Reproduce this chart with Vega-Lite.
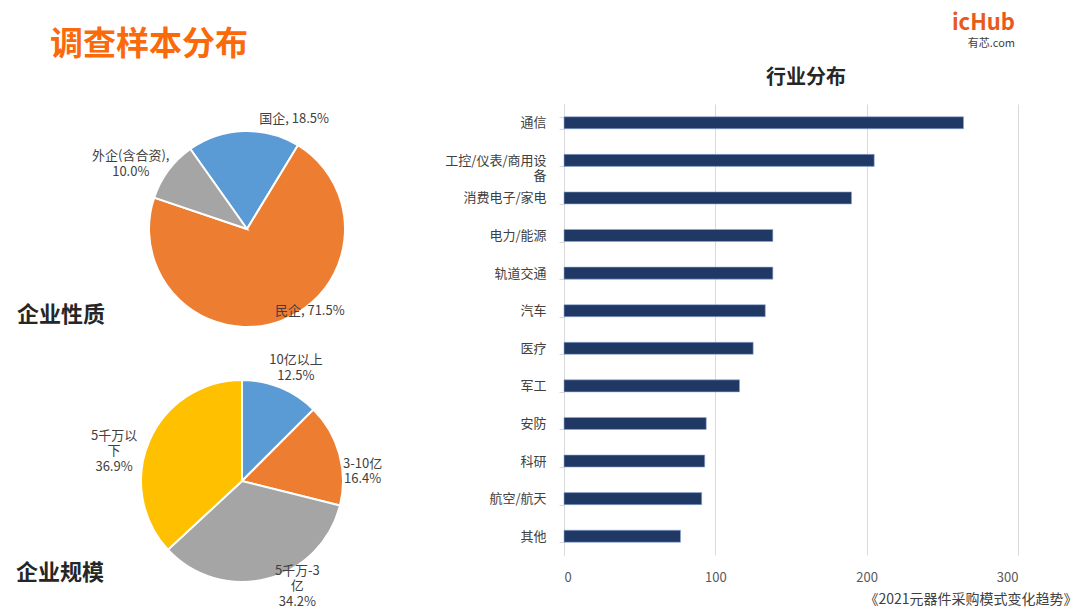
{
  "$schema": "https://vega.github.io/schema/vega-lite/v6.json",
  "padding": {"left": 15, "top": 12, "right": 0, "bottom": 0},
  "config": {
    "font": "Noto Sans CJK SC",
    "view": {"stroke": null}
  },
  "spacing": 47,
  "hconcat": [
    {
      "title": {
        "text": "调查样本分布",
        "anchor": "start",
        "frame": "group",
        "dx": -47,
        "offset": 42,
        "fontSize": 33,
        "fontWeight": "bold",
        "color": "#FA6A0A"
      },
      "bounds": "flush",
      "spacing": 0,
      "resolve": {"scale": {"color": "independent", "theta": "independent"}},
      "vconcat": [
        {
          "width": 300,
          "height": 250,
          "title": {
            "text": "企业性质",
            "orient": "bottom",
            "anchor": "start",
            "dx": -75,
            "dy": -49,
            "offset": 0,
            "fontSize": 22,
            "fontWeight": "bold",
            "color": "#262626"
          },
          "data": {
            "values": [
              {"name": "国企", "value": 18.5, "idx": 1, "label": "国企, 18.5%"},
              {"name": "民企", "value": 71.5, "idx": 2, "label": "民企, 71.5%"},
              {"name": "外企(含合资)", "value": 10.0, "idx": 3, "label": "外企(含合资),\n10.0%"}
            ]
          },
          "transform": [
            {"stack": "value", "groupby": [], "sort": [{"field": "idx"}], "as": ["v0", "v1"]},
            {"calculate": "(datum.v0 + datum.v1) / 2", "as": "mid"}
          ],
          "layer": [
            {
              "mark": {"type": "arc", "outerRadius": 98, "stroke": "#ffffff", "strokeWidth": 2},
              "encoding": {
                "theta": {"field": "v0", "type": "quantitative", "stack": null, "scale": {"domain": [0, 100], "range": [-0.616, 5.667]}},
                "theta2": {"field": "v1"},
                "color": {
                  "field": "name",
                  "type": "nominal",
                  "scale": {"domain": ["国企", "民企", "外企(含合资)"], "range": ["#5B9BD5", "#ED7D31", "#A5A5A5"]},
                  "legend": null
                }
              }
            },
            {
              "transform": [{"filter": "datum.name == '国企'"}],
              "mark": {"type": "text", "radius": 110, "dx": 51, "dy": 0, "fontSize": 13, "color": "#404040", "lineBreak": "\n"},
              "encoding": {"theta": {"field": "mid", "type": "quantitative", "stack": null}, "text": {"field": "label"}}
            },
            {
              "transform": [{"filter": "datum.name == '民企'"}],
              "mark": {"type": "text", "radius": 90, "dx": 32, "dy": -3, "fontSize": 13, "color": "#404040", "lineBreak": "\n"},
              "encoding": {"theta": {"field": "mid", "type": "quantitative", "stack": null}, "text": {"field": "label"}}
            },
            {
              "transform": [{"filter": "datum.name == '外企(含合资)'"}],
              "mark": {"type": "text", "radius": 120, "dx": -20, "dy": -1, "fontSize": 13, "lineHeight": 15.5, "color": "#404040", "lineBreak": "\n"},
              "encoding": {"theta": {"field": "mid", "type": "quantitative", "stack": null}, "text": {"field": "label"}}
            }
          ]
        },
        {
          "width": 290,
          "height": 254,
          "title": {
            "text": "企业规模",
            "orient": "bottom",
            "anchor": "start",
            "dx": -75,
            "dy": -46,
            "offset": 0,
            "fontSize": 22,
            "fontWeight": "bold",
            "color": "#262626"
          },
          "data": {
            "values": [
              {"name": "10亿以上", "value": 12.5, "idx": 1, "label": "10亿以上\n12.5%"},
              {"name": "3-10亿", "value": 16.4, "idx": 2, "label": "3-10亿\n16.4%"},
              {"name": "5千万-3亿", "value": 34.2, "idx": 3, "label": "5千万-3\n亿\n34.2%"},
              {"name": "5千万以下", "value": 36.9, "idx": 4, "label": "5千万以\n下\n36.9%"}
            ]
          },
          "transform": [
            {"stack": "value", "groupby": [], "sort": [{"field": "idx"}], "as": ["v0", "v1"]},
            {"calculate": "(datum.v0 + datum.v1) / 2", "as": "mid"}
          ],
          "layer": [
            {
              "mark": {"type": "arc", "outerRadius": 101, "stroke": "#ffffff", "strokeWidth": 2},
              "encoding": {
                "theta": {"field": "v0", "type": "quantitative", "stack": null, "scale": {"domain": [0, 100]}},
                "theta2": {"field": "v1"},
                "color": {
                  "field": "name",
                  "type": "nominal",
                  "scale": {"domain": ["10亿以上", "3-10亿", "5千万-3亿", "5千万以下"], "range": ["#5B9BD5", "#ED7D31", "#A5A5A5", "#FFC000"]},
                  "legend": null
                }
              }
            },
            {
              "transform": [{"filter": "datum.name == '10亿以上'"}],
              "mark": {"type": "text", "radius": 120, "dx": 8, "dy": -10, "fontSize": 13, "lineHeight": 15.5, "color": "#404040", "lineBreak": "\n"},
              "encoding": {"theta": {"field": "mid", "type": "quantitative", "stack": null}, "text": {"field": "label"}}
            },
            {
              "transform": [{"filter": "datum.name == '3-10亿'"}],
              "mark": {"type": "text", "radius": 120, "dx": 5, "dy": 15, "fontSize": 13, "lineHeight": 15.5, "color": "#404040", "lineBreak": "\n"},
              "encoding": {"theta": {"field": "mid", "type": "quantitative", "stack": null}, "text": {"field": "label"}}
            },
            {
              "transform": [{"filter": "datum.name == '5千万-3亿'"}],
              "mark": {"type": "text", "radius": 110, "dx": 28, "dy": -17, "fontSize": 13, "lineHeight": 15.5, "color": "#404040", "lineBreak": "\n"},
              "encoding": {"theta": {"field": "mid", "type": "quantitative", "stack": null}, "text": {"field": "label"}}
            },
            {
              "transform": [{"filter": "datum.name == '5千万以下'"}],
              "mark": {"type": "text", "radius": 120, "dx": -18, "dy": 3, "fontSize": 13, "lineHeight": 15.5, "color": "#404040", "lineBreak": "\n"},
              "encoding": {"theta": {"field": "mid", "type": "quantitative", "stack": null}, "text": {"field": "label"}}
            }
          ]
        }
      ]
    },
    {
      "title": {
        "text": "icHub",
        "subtitle": "有芯.com",
        "anchor": "end",
        "dx": -62,
        "offset": 18,
        "fontSize": 22,
        "fontWeight": "bold",
        "color": "#E8591A",
        "subtitleFontSize": 11,
        "subtitleColor": "#404040"
      },
      "vconcat": [
        {
          "width": 454,
          "height": 451,
          "title": {
            "text": "行业分布",
            "anchor": "middle",
            "dx": 15,
            "offset": 10,
            "fontSize": 20,
            "fontWeight": "bold",
            "color": "#262626"
          },
          "data": {
            "values": [
              {"industry": "通信", "count": 264},
              {"industry": "工控/仪表/商用设备", "count": 205},
              {"industry": "消费电子/家电", "count": 190},
              {"industry": "电力/能源", "count": 138},
              {"industry": "轨道交通", "count": 138},
              {"industry": "汽车", "count": 133},
              {"industry": "医疗", "count": 125},
              {"industry": "军工", "count": 116},
              {"industry": "安防", "count": 94},
              {"industry": "科研", "count": 93},
              {"industry": "航空/航天", "count": 91},
              {"industry": "其他", "count": 77}
            ]
          },
          "mark": {"type": "bar", "color": "#203864", "stroke": "#8FAADC", "strokeWidth": 0.6},
          "encoding": {
            "y": {
              "field": "industry",
              "type": "nominal",
              "sort": null,
              "scale": {"paddingInner": 0.68, "paddingOuter": 0.34},
              "axis": {
                "title": null,
                "tickBand": "extent",
                "domainColor": "#d9d9d9",
                "tickColor": "#d9d9d9",
                "tickSize": 5,
                "labelFontSize": 13,
                "labelColor": "#404040",
                "labelPadding": 13,
                "labelLineHeight": 15,
                "labelExpr": "datum.label == '工控/仪表/商用设备' ? ['工控/仪表/商用设', '备'] : datum.label"
              }
            },
            "x": {
              "field": "count",
              "type": "quantitative",
              "scale": {"domain": [0, 300]},
              "axis": {
                "values": [0, 100, 200, 300],
                "grid": true,
                "gridColor": "#d9d9d9",
                "domain": false,
                "ticks": false,
                "labelPadding": 16,
                "labelFontSize": 13,
                "labelColor": "#595959",
                "title": "《2021元器件采购模式变化趋势》",
                "titleFontSize": 14,
                "titleFontWeight": "normal",
                "titleColor": "#404040",
                "titleAnchor": "end",
                "titleAlign": "right",
                "titleBaseline": "alphabetic",
                "titleX": 513,
                "titleY": 48
              }
            }
          }
        }
      ]
    }
  ]
}
